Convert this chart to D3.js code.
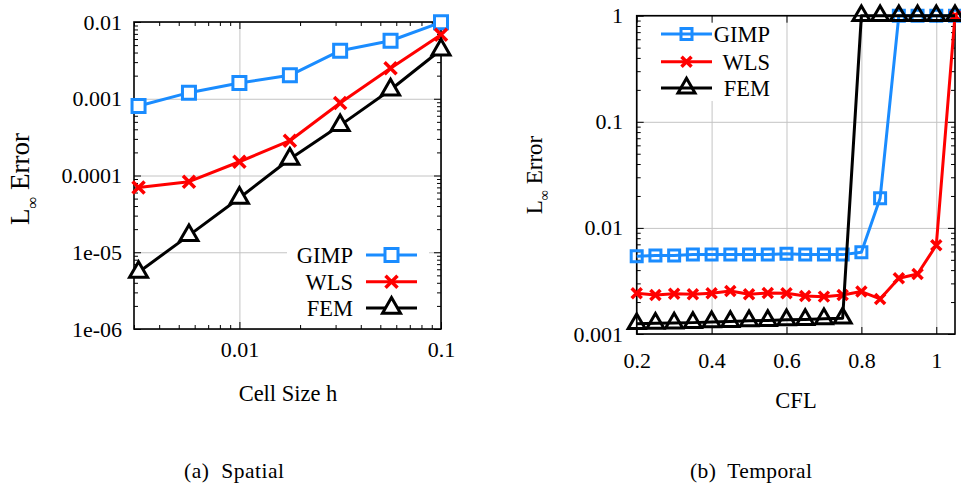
<!DOCTYPE html>
<html><head><meta charset="utf-8">
<script src="https://cdn.jsdelivr.net/npm/d3@7"></script>
<style>
body{margin:0;background:#fff}
svg{display:block}
</style>
</head><body>
<svg id="c" width="961" height="489"></svg>
<script>
// ---------- data ----------
const seriesNames = ["GIMP", "WLS", "FEM"];
const seriesColors = ["#1a8cff", "#ff0000", "#000000"];

// (a) Spatial
const cellSize   = [0.00316, 0.00562, 0.01, 0.0178, 0.0316, 0.0562, 0.1];
const spatialGIMP = [8.05e-4, 1.2e-3, 1.6e-3, 2.02e-3, 4.23e-3, 5.7e-3, 9.9e-3];
const spatialWLS  = [7.0e-5, 8.3e-5, 1.51e-4, 2.84e-4, 8.8e-4, 2.49e-3, 6.8e-3];
const spatialFEM  = [5.5e-6, 1.66e-5, 5.1e-5, 1.64e-4, 4.5e-4, 1.31e-3, 4.35e-3];
const spatialXTicks = [0.01, 0.1];
const spatialXLabels = ["0.01", "0.1"];
const spatialYTicks = [1e-6, 1e-5, 1e-4, 1e-3, 1e-2];
const spatialYLabels = ["1e-06", "1e-05", "0.0001", "0.001", "0.01"];

// (b) Temporal
const cfl = [0.2, 0.25, 0.3, 0.35, 0.4, 0.45, 0.5, 0.55, 0.6, 0.65, 0.7, 0.75, 0.8, 0.85, 0.9, 0.95, 1.0, 1.05];
const temporalGIMP = [0.0054, 0.0055, 0.0055, 0.0056, 0.0056, 0.0056, 0.0056, 0.0056, 0.0057, 0.0056, 0.0056, 0.0056, 0.0059, 0.019, 1, 1, 1, 1];
const temporalWLS  = [0.00242, 0.00233, 0.0024, 0.00237, 0.00242, 0.00254, 0.00237, 0.00243, 0.00242, 0.00228, 0.00225, 0.00233, 0.00251, 0.00214, 0.00335, 0.00368, 0.00686, 1];
const temporalFEM  = [0.00125, 0.00126, 0.00127, 0.00128, 0.0013, 0.00131, 0.00133, 0.00134, 0.00136, 0.00137, 0.00139, 0.00141, 1, 1, 1, 1, 1, 1];
const cflTicks = [0.2, 0.4, 0.6, 0.8, 1.0];
const cflLabels = ["0.2", "0.4", "0.6", "0.8", "1"];
const temporalYTicks = [0.001, 0.01, 0.1, 1];
const temporalYLabels = ["0.001", "0.01", "0.1", "1"];

const captions = ["(a)  Spatial", "(b)  Temporal"];

// ---------- drawing ----------
const FONT = "'Liberation Serif'";
const svg = d3.select("#c");

function logMinors(lo, hi) {
  const out = [];
  for (let d = Math.floor(Math.log10(lo)); d <= Math.ceil(Math.log10(hi)); d++) {
    for (let k = 2; k <= 9; k++) {
      const v = k * Math.pow(10, d);
      if (v >= lo * 0.9999 && v <= hi * 1.0001) out.push(v);
    }
  }
  return out;
}

function markerPath(kind, s) {
  if (kind === "square") { const h = s / 2; return `M${-h},${-h}H${h}V${h}H${-h}Z`; }
  if (kind === "cross") { const h = s / 2; return `M${-h},${-h}L${h},${h}M${-h},${h}L${h},${-h}`; }
  return d3.symbol(d3.symbolTriangle, s * s * 0.433)();
}

function panel(cfg) {
  const g = svg.append("g");
  const { x, y, box } = cfg;
  const W = box.x1 - box.x0, H = box.y1 - box.y0;

  // grid
  g.append("g").attr("transform", `translate(0,${box.y1})`)
    .call(d3.axisBottom(x).tickValues(cfg.xTicks).tickSize(-H).tickFormat(""))
    .call(a => { a.select(".domain").remove(); a.selectAll("line").attr("stroke", "#c4c4c4").attr("stroke-width", 1); });
  g.append("g").attr("transform", `translate(${box.x0},0)`)
    .call(d3.axisLeft(y).tickValues(cfg.yTicks).tickSize(-W).tickFormat(""))
    .call(a => { a.select(".domain").remove(); a.selectAll("line").attr("stroke", "#c4c4c4").attr("stroke-width", 1); });

  // legend background
  g.append("rect").attr("x", cfg.legend.box[0]).attr("y", cfg.legend.box[1])
    .attr("width", cfg.legend.box[2]).attr("height", cfg.legend.box[3]).attr("fill", "#fff");

  // ticks (inward, mirrored)
  const tickStyle = a => { a.select(".domain").remove(); a.selectAll("line").attr("stroke", "#000").attr("stroke-width", 1); a.selectAll("text").remove(); };
  const majX = cfg.xTicks, majY = cfg.yTicks;
  g.append("g").attr("transform", `translate(0,${box.y1})`).call(d3.axisBottom(x).tickValues(majX).tickSize(-7)).call(tickStyle);
  g.append("g").attr("transform", `translate(0,${box.y0})`).call(d3.axisTop(x).tickValues(majX).tickSize(-7)).call(tickStyle);
  g.append("g").attr("transform", `translate(${box.x0},0)`).call(d3.axisLeft(y).tickValues(majY).tickSize(-7)).call(tickStyle);
  g.append("g").attr("transform", `translate(${box.x1},0)`).call(d3.axisRight(y).tickValues(majY).tickSize(-7)).call(tickStyle);
  if (cfg.xMinor) {
    g.append("g").attr("transform", `translate(0,${box.y1})`).call(d3.axisBottom(x).tickValues(cfg.xMinor).tickSize(-4)).call(tickStyle);
    g.append("g").attr("transform", `translate(0,${box.y0})`).call(d3.axisTop(x).tickValues(cfg.xMinor).tickSize(-4)).call(tickStyle);
  }
  g.append("g").attr("transform", `translate(${box.x0},0)`).call(d3.axisLeft(y).tickValues(cfg.yMinor).tickSize(-4)).call(tickStyle);
  g.append("g").attr("transform", `translate(${box.x1},0)`).call(d3.axisRight(y).tickValues(cfg.yMinor).tickSize(-4)).call(tickStyle);

  // tick labels
  const xl = g.append("g").attr("transform", `translate(0,${cfg.xLabelY})`)
    .call(d3.axisBottom(x).tickValues(cfg.xTicks).tickSize(0).tickPadding(0).tickFormat((d, i) => cfg.xLabels[i]));
  xl.select(".domain").remove();
  xl.selectAll("text").attr("dy", "0.35em").attr("y", 0).attr("fill", "#000")
    .style("font-family", FONT).style("font-size", "22px");
  const yl = g.append("g").attr("transform", `translate(${cfg.yLabelX},0)`)
    .call(d3.axisLeft(y).tickValues(cfg.yTicks).tickSize(0).tickPadding(0).tickFormat((d, i) => cfg.yLabels[i]));
  yl.select(".domain").remove();
  yl.selectAll("text").attr("x", 0).attr("fill", "#000")
    .style("font-family", FONT).style("font-size", "22px");

  // frame
  g.append("rect").attr("x", box.x0).attr("y", box.y0).attr("width", W).attr("height", H)
    .attr("fill", "none").attr("stroke", "#000").attr("stroke-width", 1.6);

  // series
  cfg.series.forEach((s, si) => {
    const pts = cfg.xs.map((xv, i) => [x(xv), y(s[i])]);
    g.append("path").attr("d", d3.line()(pts)).attr("fill", "none")
      .attr("stroke", seriesColors[si]).attr("stroke-width", 3).attr("stroke-linejoin", "round");
    const kind = cfg.kinds[si];
    g.selectAll(null).data(pts).join("path")
      .attr("transform", d => `translate(${d[0]},${d[1]})`)
      .attr("d", markerPath(kind, cfg.msize[si]))
      .attr("fill", kind === "cross" ? "none" : cfg.mfill)
      .attr("stroke", seriesColors[si]).attr("stroke-width", kind === "cross" ? 3.5 : 3);
  });

  // legend
  const L = cfg.legend;
  seriesNames.forEach((n, i) => {
    const yy = L.rows[i];
    g.append("line").attr("x1", L.lx0).attr("x2", L.lx1).attr("y1", yy).attr("y2", yy)
      .attr("stroke", seriesColors[i]).attr("stroke-width", 3);
    const kind = cfg.kinds[i];
    g.append("path").attr("transform", `translate(${(L.lx0 + L.lx1) / 2},${yy})`)
      .attr("d", markerPath(kind, cfg.msize[i]))
      .attr("fill", kind === "cross" ? "none" : cfg.mfill)
      .attr("stroke", seriesColors[i]).attr("stroke-width", kind === "cross" ? 3.5 : 3);
    g.append("text").attr("x", L.tx).attr("y", yy).attr("dy", "0.35em")
      .attr("text-anchor", "end").style("font-family", FONT).style("font-size", "22.5px").text(n);
  });

  // axis titles
  g.append("text").attr("x", cfg.xTitle[0]).attr("y", cfg.xTitle[1]).attr("dy", "0.35em")
    .attr("text-anchor", "middle").style("font-family", FONT).style("font-size", "22.5px").text(cfg.xTitleText);
  const fs = cfg.yTitleSize;
  const yt = g.append("text").attr("transform", `translate(${cfg.yTitle[0]},${cfg.yTitle[1]}) rotate(-90)`)
    .attr("dy", "0.35em").attr("text-anchor", "middle").style("font-family", FONT).style("font-size", fs + "px");
  yt.append("tspan").text("L");
  yt.append("tspan").style("font-size", (fs * 0.62) + "px").attr("dy", fs * 0.3).text("\u221E");
  yt.append("tspan").attr("dy", -fs * 0.3).text(" Error");

  // caption
  g.append("text").attr("x", cfg.caption[0]).attr("y", cfg.caption[1])
    .attr("text-anchor", "middle").style("font-family", FONT).style("font-size", "21.5px")
    .style("white-space", "pre")
    .attr("textLength", cfg.captionWidth).attr("lengthAdjust", "spacing").text(cfg.captionText);
}

// Left panel
const boxA = { x0: 134, x1: 441, y0: 22, y1: 329 };
panel({
  box: boxA,
  x: d3.scaleLog().domain([0.003, 0.1]).range([boxA.x0, boxA.x1]),
  y: d3.scaleLog().domain([1e-6, 1e-2]).range([boxA.y1, boxA.y0]),
  xs: cellSize,
  series: [spatialGIMP, spatialWLS, spatialFEM],
  kinds: ["square", "cross", "triangle"],
  msize: [13, 12, 18],
  mfill: "#fff",
  xTicks: spatialXTicks, xLabels: spatialXLabels,
  yTicks: spatialYTicks, yLabels: spatialYLabels,
  xMinor: logMinors(0.003, 0.1),
  yMinor: logMinors(1e-6, 1e-2),
  xLabelY: 349, yLabelX: 122,
  legend: { box: [287, 240, 142, 82], rows: [255, 281.7, 308], lx0: 366, lx1: 417, tx: 353 },
  xTitle: [288, 393], xTitleText: "Cell Size h",
  yTitle: [20, 179], yTitleSize: 27,
  caption: [234, 478], captionText: captions[0], captionWidth: 100
});

// Right panel
const boxB = { x0: 636.7, x1: 955, y0: 15.7, y1: 334 };
panel({
  box: boxB,
  x: d3.scaleLinear().domain([0.2, 1.05]).range([boxB.x0, boxB.x1]),
  y: d3.scaleLog().domain([0.001, 1]).range([boxB.y1, boxB.y0]),
  xs: cfl,
  series: [temporalGIMP, temporalWLS, temporalFEM],
  kinds: ["square", "cross", "triangle"],
  msize: [11, 10, 17],
  mfill: "none",
  xTicks: cflTicks, xLabels: cflLabels,
  yTicks: temporalYTicks, yLabels: temporalYLabels,
  xMinor: null,
  yMinor: logMinors(0.001, 1),
  xLabelY: 360, yLabelX: 623,
  legend: { box: [655, 17, 120, 84], rows: [34, 61.7, 88], lx0: 661, lx1: 712, tx: 770 },
  xTitle: [796, 400], xTitleText: "CFL",
  yTitle: [534, 175], yTitleSize: 23,
  caption: [751, 478], captionText: captions[1], captionWidth: 122
});
</script>
</body></html>
